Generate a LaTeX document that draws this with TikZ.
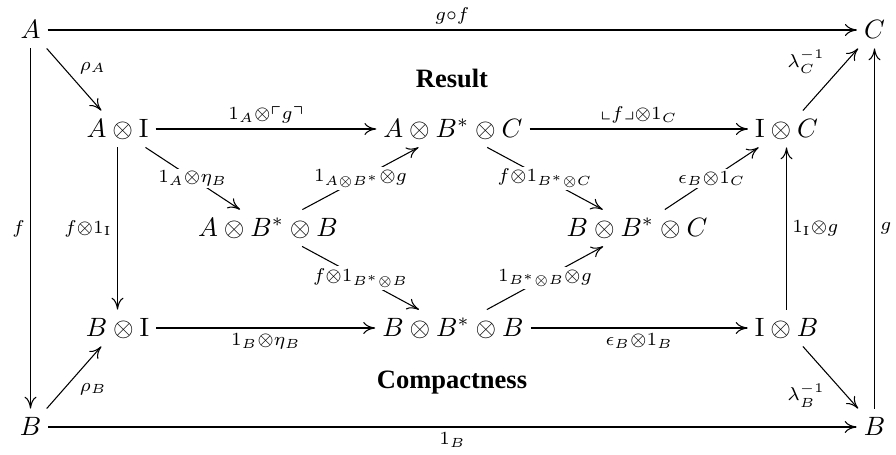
\documentclass[tikz,border=0pt]{standalone}
\usepackage{amsmath,amssymb}
\usepackage{fontspec}
\newfontfamily\headfont{Liberation Serif}
\usetikzlibrary{arrows.meta}
\tikzset{
  cdobj/.style={inner sep=2.5pt, text height=7.5pt, text depth=1pt},
  cdarr/.style={-{To[length=4.5pt,width=4.5pt]}, line width=0.4pt},
  cdlab/.style={inner sep=2pt, execute at begin node=$\scriptstyle, execute at end node=$},
  cddesc/.style={cdlab, midway, fill=white, inner sep=0.8pt},
  cdhead/.style={font=\headfont\bfseries},
}

\begin{document}
\begin{tikzpicture}[x=0.3774pt, y=-0.3774pt]
  \useasboundingbox (0,0) rectangle (896,455);
  % corners
  \node[cdobj] (A)  at (30.5,30)  {$A$};
  \node[cdobj] (C)  at (874.5,30) {$C$};
  \node[cdobj] (Bl) at (30.5,427) {$B$};
  \node[cdobj] (Br) at (874.5,427) {$B$};
  % top row
  \node[cdobj] (AI)  at (117.5,129) {$A\otimes\mathrm{I}$};
  \node[cdobj] (ABC) at (453,129) {$A\otimes B^{*}\otimes C$};
  \node[cdobj] (IC)  at (786.5,129) {$\mathrm{I}\otimes C$};
  % middle row
  \node[cdobj] (ABB) at (268,228) {$A\otimes B^{*}\otimes B$};
  \node[cdobj] (BBC) at (637,228) {$B\otimes B^{*}\otimes C$};
  % bottom row
  \node[cdobj] (BI)  at (117.5,328) {$B\otimes\mathrm{I}$};
  \node[cdobj] (BBB) at (453,328) {$B\otimes B^{*}\otimes B$};
  \node[cdobj] (IB)  at (786.5,328) {$\mathrm{I}\otimes B$};
  % headings
  \node[cdhead] (res)  at (452,78)  {Result};
  \node[cdhead] (comp) at (452,383) {Compactness};
  % outer square
  \draw[cdarr] (A) -- node[cdlab, above] {g\circ f} (C);
  \draw[cdarr] (A) -- node[cdlab, left] {f} (Bl);
  \draw[cdarr] (Br) -- node[cdlab, right] {g} (C);
  \draw[cdarr] (Bl) -- node[cdlab, below] {1_B} (Br);
  \draw[cdarr] (A) -- node[cdlab, above right] {\rho_A} (AI);
  \draw[cdarr] (IC) -- node[cdlab, above left] {\lambda_C^{-1}} (C);
  \draw[cdarr] (Bl) -- node[cdlab, below right] {\rho_B} (BI);
  \draw[cdarr] (IB) -- node[cdlab, below left] {\lambda_B^{-1}} (Br);
  % result
  \draw[cdarr] (AI) -- node[cdlab, above] {1_A\otimes\ulcorner g\urcorner} (ABC);
  \draw[cdarr] (ABC) -- node[cdlab, above] {\llcorner f\lrcorner\otimes 1_C} (IC);
  \draw[cdarr] (AI) -- node[cddesc] {1_A\otimes\eta_B} (ABB);
  \draw[cdarr] (ABB) -- node[cddesc] {1_{A\otimes B^{*}}\otimes g} (ABC);
  \draw[cdarr] (ABC) -- node[cddesc] {f\otimes 1_{B^{*}\otimes C}} (BBC);
  \draw[cdarr] (BBC) -- node[cddesc] {\epsilon_B\otimes 1_C} (IC);
  \draw[cdarr] (AI) -- node[cdlab, left] {f\otimes 1_{\mathrm{I}}} (BI);
  \draw[cdarr] (IB) -- node[cdlab, right] {1_{\mathrm{I}}\otimes g} (IC);
  % compactness
  \draw[cdarr] (ABB) -- node[cddesc] {f\otimes 1_{B^{*}\otimes B}} (BBB);
  \draw[cdarr] (BBB) -- node[cddesc] {1_{B^{*}\otimes B}\otimes g} (BBC);
  \draw[cdarr] (BI) -- node[cdlab, below] {1_B\otimes\eta_B} (BBB);
  \draw[cdarr] (BBB) -- node[cdlab, below] {\epsilon_B\otimes 1_B} (IB);
\end{tikzpicture}
\end{document}
